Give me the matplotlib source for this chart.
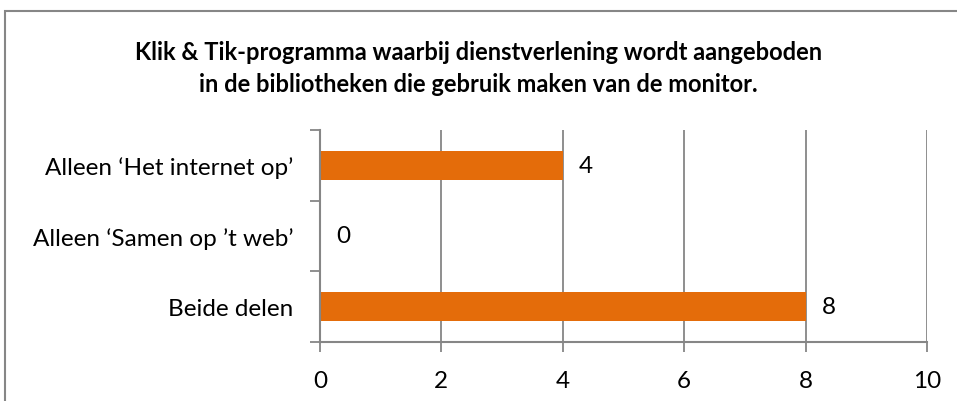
import numpy as np
import matplotlib.pyplot as plt
from matplotlib.patches import Rectangle

title = "Klik & Tik-programma waarbij dienstverlening wordt aangeboden\nin de bibliotheken die gebruik maken van de monitor."
categories = ["Alleen \u2018Het internet op\u2019", "Alleen \u2018Samen op \u2019t web\u2019", "Beide delen"]
values = [4, 0, 8]
xticks = [0, 2, 4, 6, 8, 10]

orange = "#E46C0A"
grey = "#868686"

plt.rcParams["font.family"] = ["Lato", "DejaVu Sans"]

fig = plt.figure(figsize=(9.57, 4.02), dpi=100)
ax = fig.add_axes([0.3344, 0.1468, 0.9687 - 0.3344, 0.6741 - 0.1468])

# category 0 on top
ypos = np.arange(len(categories))[::-1]
ax.barh(ypos, values, height=0.41, color=orange, zorder=3)
for y, v in zip(ypos, values):
    ax.text(v + 0.26, y, str(v), va="center", ha="left", fontsize=17.5, color="black")

ax.set_xlim(0, 10)
ax.set_ylim(-0.5, len(categories) - 0.5)
ax.set_xticks(xticks)
ax.set_xticklabels([str(t) for t in xticks], fontsize=17.5)
ax.set_yticks(ypos)
ax.set_yticklabels(categories, fontsize=17.5)
ax.set_yticks(np.arange(-0.5, len(categories)), minor=True)
ax.tick_params(axis="y", which="major", length=0, pad=19)
ax.tick_params(axis="y", which="minor", length=7, width=1.3, color=grey, direction="out")
ax.tick_params(axis="x", length=7, width=1.3, color=grey, direction="out", pad=13)

ax.grid(axis="x", color=grey, linewidth=1.3, zorder=0)
for s in ["top", "right"]:
    ax.spines[s].set_visible(False)
for s in ["left", "bottom"]:
    ax.spines[s].set_color(grey)
    ax.spines[s].set_linewidth(1.5)
    ax.spines[s].set_zorder(4)

fig.text(0.5, 0.83, title, ha="center", va="center", fontsize=17,
         fontweight="bold", linespacing=1.5)

# chart frame (right and bottom edges fall outside the picture)
fig.patches.append(Rectangle((5 / 957, -0.1), 1.2, 1.1 - 12 / 402,
                             transform=fig.transFigure, fill=False,
                             edgecolor=grey, linewidth=1.5))

fig.savefig("out.png", dpi=100)
